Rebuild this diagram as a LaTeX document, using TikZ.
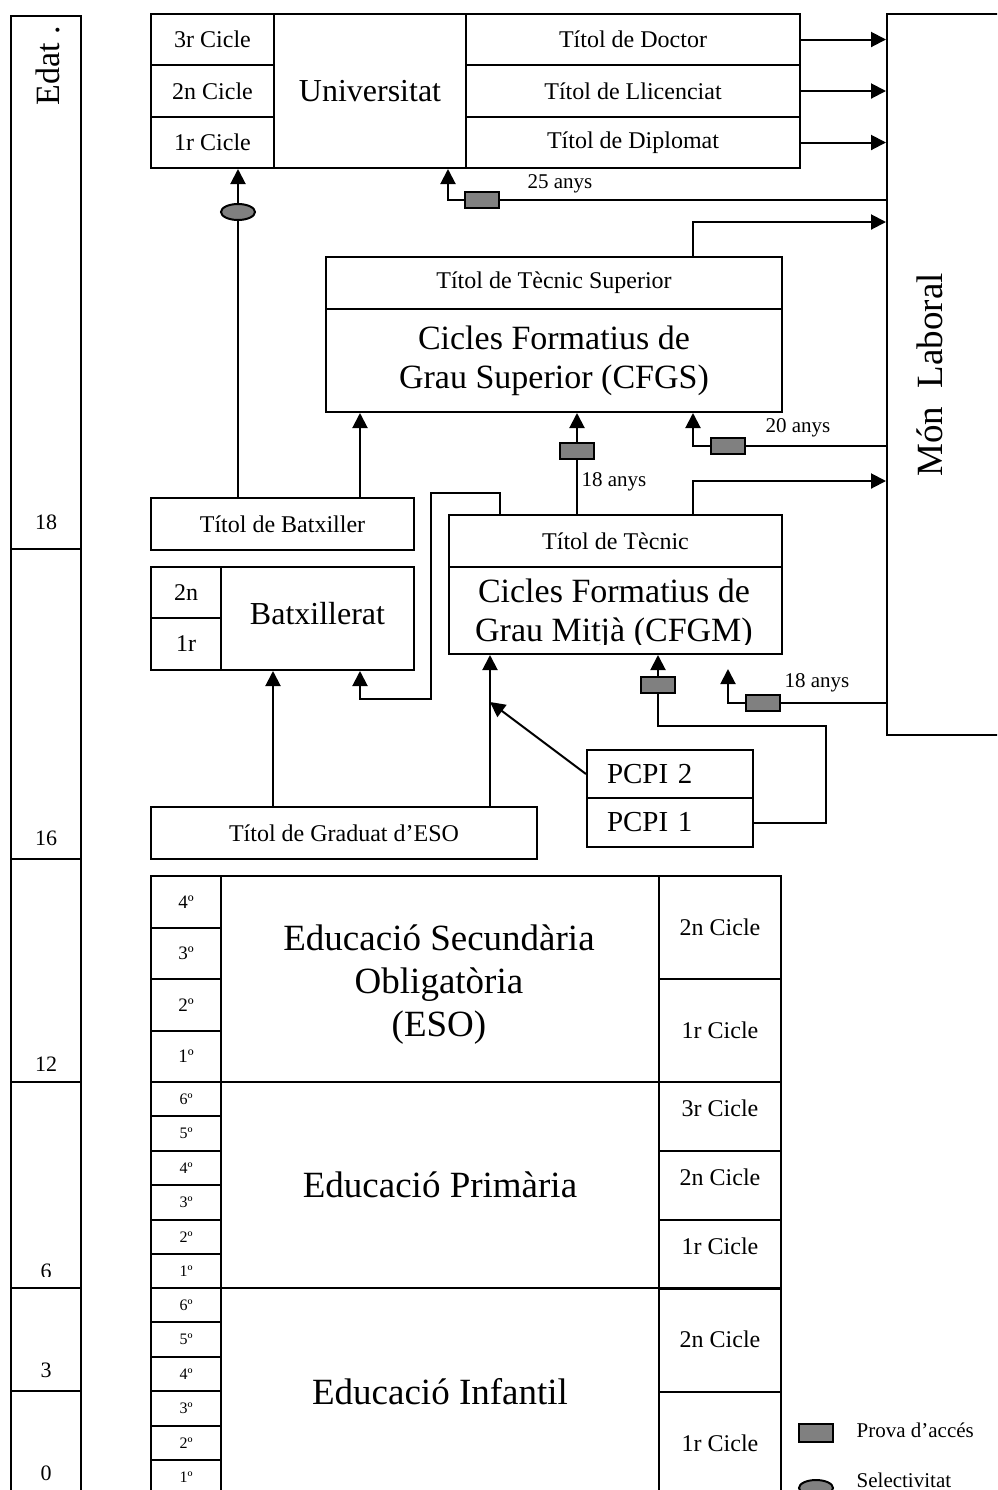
\documentclass[tikz,border=0pt]{standalone}
\usepackage{fontspec}
\setmainfont{Liberation Serif}
\usepackage{tikz}
\usetikzlibrary{arrows.meta, shapes.geometric}
\definecolor{provagray}{RGB}{128,128,128}

\begin{document}
\begin{tikzpicture}[x=0.5pt, y=-0.5pt, line width=1pt,
  cell/.style={draw, inner sep=0pt, anchor=north west, align=center, font=\fontsize{12}{14}\selectfont},
  wd/.style={minimum width=(#1)*0.5pt},
  ht/.style={minimum height=(#1)*0.5pt},
  prova/.style={draw, fill=provagray, inner sep=0pt, minimum width=17pt, minimum height=8pt},
  selec/.style={prova, ellipse},
  anys/.style={font=\fontsize{10.5}{12}\selectfont},
  big/.style={font=\fontsize{17}{19.5}\selectfont, align=center},
  pcpi/.style={cell, wd=166, inner xsep=10pt, text width=63pt, align=left, font=\fontsize{14.5}{17}\selectfont},
  arr/.style={-{Triangle[length=7.5pt, width=7.5pt]}}]

  \useasboundingbox (0,0) rectangle (997,1490);
  \clip (0,0) rectangle (997,1490);

  \foreach \ya/\yb [count=\k] in {15/548, 548/858, 858/1081, 1081/1287, 1287/1390, 1390/1510}
    \node[cell, wd=70, ht=\yb-\ya] (age\k) at (10,\ya) {};
  \node[font=\fontsize{17}{20}\selectfont, rotate=90, anchor=base] (edat) at (60,66) {Edat .};
  \foreach \a/\y in {18/522, 16/838, 12/1064, 3/1370, 0/1473}
    \node[font=\fontsize{11}{13}\selectfont] (a\a) at (46,\y) {\a};
  \begin{scope}
    \clip (10,1081) rectangle (80,1276);
    \node[font=\fontsize{11}{13}\selectfont] (a6) at (46,1271) {6};
  \end{scope}

  \node[cell, wd=123, ht=51] (u3) at (150,13) {3r Cicle};
  \node[cell, wd=123, ht=52] (u2) at (150,64) {2n Cicle};
  \node[cell, wd=123, ht=51] (u1) at (150,116) {1r Cicle};
  \node[cell, wd=192, ht=154, font=\fontsize{16}{19}\selectfont] (univ) at (273,13) {Universitat};
  \node[cell, wd=334, ht=51] (tdoc) at (465,13) {Títol de Doctor};
  \node[cell, wd=334, ht=52] (tlli) at (465,64) {Títol de Llicenciat};
  \node[cell, wd=334, ht=51] (tdip) at (465,116) {Títol de Diplomat};

  \node[cell, wd=140, ht=721] (mon) at (886,13) {};
  \node[font=\fontsize{18.5}{22}\selectfont, rotate=90, anchor=base] (monlab) at (942,375) {Món~~Laboral};

  \node[cell, wd=456, ht=52] (tsup) at (325,256) {Títol de Tècnic Superior};
  \node[cell, wd=456, ht=103, big] (cfgs) at (325,308) {Cicles Formatius de\\Grau Superior (CFGS)};

  \node[cell, wd=333, ht=52] (tmit) at (448,514) {Títol de Tècnic};
  \node[cell, wd=333, ht=87] (cfgm) at (448,566) {};
  \begin{scope}
    \clip (448,566) rectangle (781,644);
    \node[big] (cfgmtxt) at (614,614) {Cicles Formatius de\\Grau Mitjà (CFGM)};
  \end{scope}

  \node[cell, wd=263, ht=52] (tbatx) at (150,497) {Títol de Batxiller};
  \node[cell, wd=70, ht=51] (b2) at (150,566) {2n};
  \node[cell, wd=70, ht=52] (b1) at (150,617) {1r};
  \node[cell, wd=193, ht=103, text depth=5.5pt, font=\fontsize{16}{19}\selectfont] (batx) at (220,566) {Batxillerat};

  \node[cell, wd=386, ht=52] (grad) at (150,806) {Títol de Graduat d’ESO};
  \node[pcpi, ht=48] (pcpi2) at (586,749) {PCPI 2};
  \node[pcpi, ht=49] (pcpi1) at (586,797) {PCPI 1};

  \foreach \o [count=\k from 0] in {4º,3º,2º,1º}
    \node[cell, wd=70, ht=51.5, font=\fontsize{9.5}{11}\selectfont] (esoy\k) at (150,{875+51.5*\k}) {\o};
  \foreach \o [count=\k from 0] in {6º,5º,4º,3º,2º,1º} {
    \node[cell, wd=70, ht=34.4, font=\fontsize{8}{10}\selectfont] (priy\k) at (150,{1081+34.4*\k}) {\o};
    \node[cell, wd=70, ht=34.4, font=\fontsize{8}{10}\selectfont] (infy\k) at (150,{1287+34.4*\k}) {\o};
  }

  \node[cell, wd=438, ht=206] (eso) at (220,875) {};
  \node[font=\fontsize{18.5}{21.5}\selectfont, align=center] (esotxt) at (439,985) {Educació Secundària\\Obligatòria\\(ESO)};
  \node[cell, wd=122, ht=103] (ec2) at (658,875) {2n Cicle};
  \node[cell, wd=122, ht=103] (ec1) at (658,978) {1r Cicle};

  \node[cell, wd=438, ht=206, font=\fontsize{18.5}{21.5}\selectfont] (pri) at (220,1081) {Educació Primària};
  \node[cell, wd=122, ht=69, text depth=8.5pt] (pc3) at (658,1081) {3r Cicle};
  \node[cell, wd=122, ht=69, text depth=8.5pt] (pc2) at (658,1150) {2n Cicle};
  \node[cell, wd=122, ht=69, text depth=8.5pt] (pc1) at (658,1219) {1r Cicle};

  \node[cell, wd=438, ht=207, font=\fontsize{18.5}{21.5}\selectfont] (inf) at (220,1287) {Educació Infantil};
  \node[cell, wd=122, ht=103.5] (ic2) at (658,1287) {2n Cicle};
  \node[cell, wd=122, ht=103.5] (ic1) at (658,1390.5) {1r Cicle};

  \node[selec] (sel) at (238,212) {};
  \node[prova] (p25) at (482,200) {};
  \node[prova] (p18a) at (577,451) {};
  \node[prova] (p20) at (728,446) {};
  \node[prova] (p18b) at (658,685) {};
  \node[prova] (p18c) at (763,703) {};
  \node[anys] (l25) at (560,184) {25 anys};
  \node[anys] (l18a) at (614,482) {18 anys};
  \node[anys] (l20) at (798,428) {20 anys};
  \node[anys] (l18c) at (817,683) {18 anys};

  \coordinate (kSup) at (693,222);
  \coordinate (kMit) at (693,481);
  \coordinate (kJoin) at (490,702);
  \coordinate (kFree) at (728,669);

  \foreach \tit in {tdoc,tlli,tdip}
    \draw[arr] (\tit.east) -- (\tit.east -| mon.west);

  \draw (sel |- tbatx.north) -- (sel.south);
  \draw[arr] (sel.north) -- (sel |- u1.south);
  \draw (p25 -| mon.west) -- (p25.east);
  \draw[arr] (p25.west) -| (448,0 |- univ.south);

  \draw[arr] (kSup |- tsup.north) -- (kSup) -- (kSup -| mon.west);
  \draw[arr] (360,0 |- tbatx.north) -- (360,0 |- cfgs.south);
  \draw (p18a |- tmit.north) -- (p18a.south);
  \draw[arr] (p18a.north) -- (p18a |- cfgs.south);
  \draw (p20 -| mon.west) -- (p20.east);
  \draw[arr] (p20.west) -| (kSup |- cfgs.south);

  \draw[arr] (kMit |- tmit.north) -- (kMit) -- (kMit -| mon.west);
  \draw[arr] (500,0 |- tmit.north) |- (431,493) |- (360,699) -- (360,0 |- batx.south);
  \draw[arr] (273,0 |- grad.north) -- (273,0 |- batx.south);
  \draw[arr] (490,0 |- grad.north) -- (490,0 |- cfgm.south);
  \draw[arr] (pcpi2.west) -- (kJoin);
  \draw (pcpi1.east) -| (826,726) -| (p18b.south);
  \draw[arr] (p18b.north) -- (p18b |- cfgm.south);
  \draw (p18c -| mon.west) -- (p18c.east);
  \draw[arr] (p18c.west) -| (kFree);

  \node[prova, minimum height=9pt] (lprova) at (816,1433) {};
  \node[selec] (lsel) at (816,1488) {};
  \node[anys, anchor=west] (lprovatxt) at (849,1430) {Prova d’accés};
  \node[anys, anchor=west] (lseltxt) at (849,1480) {Selectivitat};

\end{tikzpicture}
\end{document}
